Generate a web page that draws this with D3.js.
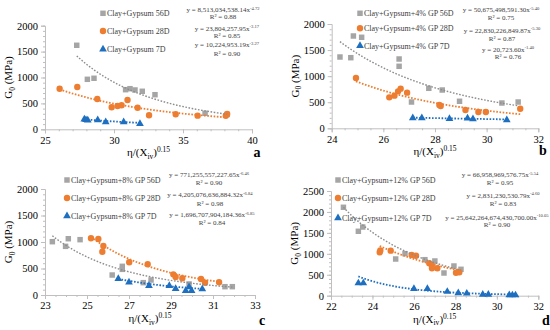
<!DOCTYPE html>
<html>
<head>
<meta charset="utf-8">
<script src="https://cdn.jsdelivr.net/npm/d3@7"></script>
<style>
  body { margin: 0; background: #fff; }
  svg { display: block; }
  svg text { font-family: "Liberation Serif", "Times New Roman", serif; }
</style>
</head>
<body>
<svg id="drawing_region"></svg>
<script>
// ---- data: [eta/(Xiv)^0.15, G0 (MPa)] ----
const a56 = [[27.30,1622],[28.07,965],[28.55,985],[30.84,765],[31.16,784],[31.52,759],[32.05,734],[32.97,668],[36.6,309],[38.2,285]];
const a28 = [[26.06,784],[27.34,817],[28.79,585],[29.83,425],[30.26,450],[30.55,463],[30.98,566],[31.71,417],[32.54,270],[34.47,290],[36.06,263],[38.1,260],[38.2,296]];
const a7  = [[27.85,193],[27.97,182],[28.1,176],[28.82,180],[29.4,140],[30.7,142],[31.88,108]];

const b56 = [[24.32,1367],[24.74,1354],[24.84,1770],[25.16,1745],[26.61,1329],[26.61,1189],[27.09,504],[27.76,767],[28.28,734],[28.95,518],[30.59,485],[31.22,504]];
const b28 = [[24.94,965],[26.23,594],[26.43,626],[26.57,709],[26.67,760],[26.92,683],[28.17,447],[28.22,428],[29.18,351],[29.68,313],[29.97,313],[31.30,376]];
const b7  = [[27.14,198],[27.49,198],[28.56,185],[29.26,192],[29.47,178],[30.78,159]];

const c56 = [[23.35,1006],[23.98,918],[24.11,1062],[24.67,1044],[26.2,377],[26.68,541],[26.68,484],[27.68,233],[28.05,283],[29.86,208],[31.57,157],[31.92,157]];
const c28 = [[25.19,1070],[25.54,1056],[25.78,925],[25.73,817],[27.01,617],[27.89,579],[29.11,390],[29.22,340],[29.54,315],[30.43,302],[30.62,232],[31.29,240]];
const c7  = [[26.49,308],[27.0,240],[27.95,175],[28.92,175],[29.22,119],[29.7,81],[29.86,151],[29.98,81],[30.49,113]];

const d56 = [[22.6,2111],[23.32,1538],[23.53,1640],[25.12,876],[25.57,1003],[26.53,860],[27.01,829],[27.45,542],[27.93,709],[28.27,630]];
const d28 = [[24.35,1036],[24.38,1080],[24.88,1075],[25.89,972],[26.1,955],[26.74,774],[26.86,733],[26.87,654],[27.13,654],[28.03,549],[28.19,559]];
const d7  = [[23.32,300],[23.56,300],[26.0,165],[26.65,165],[27.61,97],[28.14,65],[28.55,56],[29.32,28],[29.59,28],[30.6,16],[30.75,14],[30.9,14]];

// legend names
const aNames = ['Clay+Gypsum 56D','Clay+Gypsum 28D','Clay+Gypsum 7D'];
const bNames = ['Clay+Gypsum+4% GP 56D','Clay+Gypsum+4% GP 28D','Clay+Gypsum+4% GP 7D'];
const cNames = ['Clay+Gypsum+8% GP 56D','Clay+Gypsum+8% GP 28D','Clay+Gypsum+8% GP 7D'];
const dNames = ['Clay+Gypsum+12% GP 56D','Clay+Gypsum+12% GP 28D','Clay+Gypsum+12% GP 7D'];

// power trendlines y = k x^e, as printed
const aCoef = ['8,513,034,538.14','23,804,257.95','10,224,953.19'];
const aExp  = ['-4.72','-3.17','-3.27'];
const aR2   = ['0.88','0.85','0.90'];
const bCoef = ['50,675,498,591.30','22,830,226,849.87','20,723.60'];
const bExp  = ['-5.40','-5.30','-1.40'];
const bR2   = ['0.75','0.87','0.76'];
const cCoef = ['771,255,557,227.65','4,205,076,636,884.32','1,696,707,904,184.36'];
const cExp  = ['-6.46','-6.84','-6.85'];
const cR2   = ['0.90','0.98','0.84'];
const dCoef = ['66,958,969,576.75','2,831,230,530.79','25,642,264,674,430,700.00'];
const dExp  = ['-5.54','-4.60','-10.05'];
const dR2   = ['0.95','0.83','0.90'];

// axis ticks
const aXTicks = [25,30,35,40];
const bXTicks = [24,26,28,30,32];
const cXTicks = [23,25,27,29,31,33];
const dXTicks = [22,24,26,28,30,32];
const yTicks2000 = [0,500,1000,1500,2000];
const yTicks2500 = [0,500,1000,1500,2000,2500];

const panelLetters = ['a','b','c','d'];

// ---- drawing ----
const colors = ['#a5a5a5','#ed7d31','#1f6fc0'];
const trendColors = ['#8c8c8c','#ed7d31','#1f6fc0'];
const shapes = [d3.symbolSquare, d3.symbolCircle, d3.symbolTriangle];
const shapeSize = [30, 32, 26];

const svg = d3.select('#drawing_region')
    .attr('width', 550)
    .attr('height', 330);

function drawPanel(cfg) {
    const g = svg.append('g');
    const x = d3.scaleLinear().domain([cfg.xTicks[0], cfg.xTicks[cfg.xTicks.length-1]]).range([cfg.left, cfg.right]);
    const y = d3.scaleLinear().domain([0, cfg.yTicks[cfg.yTicks.length-1]]).range([cfg.bottom, cfg.top]);

    // minor ticks
    const xStep = cfg.xTicks[1] - cfg.xTicks[0];
    const xMinor = d3.range(x.domain()[0], x.domain()[1] + 1e-9, xStep / (xStep === 5 ? 5 : 4));
    const yMinor = d3.range(0, y.domain()[1] + 1e-9, 100);
    g.append('g').attr('transform', `translate(0,${cfg.bottom})`)
        .call(d3.axisBottom(x).tickValues(xMinor).tickSize(2).tickFormat(''))
        .call(a => a.select('.domain').remove());
    g.append('g').attr('transform', `translate(${cfg.left},0)`)
        .call(d3.axisLeft(y).tickValues(yMinor).tickSize(2).tickFormat(''))
        .call(a => a.select('.domain').remove());

    const xAxis = g.append('g').attr('transform', `translate(0,${cfg.bottom})`)
        .call(d3.axisBottom(x).tickValues(cfg.xTicks).tickSize(4).tickPadding(3).tickFormat(d3.format('d')));
    const yAxis = g.append('g').attr('transform', `translate(${cfg.left},0)`)
        .call(d3.axisLeft(y).tickValues(cfg.yTicks).tickSize(4).tickPadding(3).tickFormat(d3.format('d')));
    [xAxis, yAxis].forEach(ax => {
        ax.attr('font-family', null);
        ax.select('.domain').attr('stroke', '#bfbfbf');
        ax.selectAll('text').attr('font-size', '10.5px').attr('fill', '#000');
    });
    g.selectAll('.tick line').attr('stroke', '#bfbfbf');

    // markers
    cfg.series.forEach((s, i) => {
        g.append('g').selectAll('path')
            .data(s)
            .join('path')
            .attr('transform', d => `translate(${x(d[0])},${y(d[1])})`)
            .attr('d', d3.symbol().type(shapes[i]).size(shapeSize[i]))
            .attr('fill', colors[i]);
    });

    // trendlines from the printed power laws, over each series' x range
    cfg.series.forEach((s, i) => {
        const k = parseFloat(cfg.coef[i].replace(/,/g, ''));
        const e = parseFloat(cfg.exp[i]);
        const [x0, x1] = d3.extent(s, d => d[0]);
        const xs = d3.range(0, 61).map(t => x0 + (x1 - x0) * t / 60);
        g.append('path')
            .datum(xs)
            .attr('d', d3.line().x(v => x(v)).y(v => y(k * Math.pow(v, e))))
            .attr('fill', 'none')
            .attr('stroke', trendColors[i])
            .attr('stroke-width', i === 0 ? 1.4 : 1.8)
            .attr('stroke-dasharray', '1.6,1.6');
    });

    // legend
    cfg.names.forEach((n, i) => {
        const ly = cfg.legendY[i];
        g.append('path')
            .attr('transform', `translate(${cfg.legendX},${ly})`)
            .attr('d', d3.symbol().type(shapes[i]).size(shapeSize[i]))
            .attr('fill', colors[i]);
        g.append('text')
            .attr('x', cfg.legendX + 4)
            .attr('y', ly + 3)
            .attr('font-size', '8px')
            .attr('fill', '#404040')
            .text(n);
    });

    // equations
    cfg.coef.forEach((c, i) => {
        const t = g.append('text')
            .attr('x', cfg.eqX[i])
            .attr('y', cfg.eqY[2*i] + 2.2)
            .attr('text-anchor', 'middle')
            .attr('font-size', '7px')
            .attr('fill', '#404040');
        t.append('tspan').text(`y = ${c}x`);
        t.append('tspan').attr('dy', -2.6).attr('font-size', '4.6px').text(cfg.exp[i]);
        g.append('text')
            .attr('x', cfg.eqX[i])
            .attr('y', cfg.eqY[2*i+1] + 2.6)
            .attr('text-anchor', 'middle')
            .attr('font-size', '7px')
            .attr('fill', '#404040')
            .text(`R² = ${cfg.r2[i]}`);
    });

    // axis titles
    const yt = g.append('text')
        .attr('transform', `translate(${cfg.left - 33},${(cfg.top + cfg.bottom) / 2}) rotate(-90)`)
        .attr('text-anchor', 'middle')
        .attr('font-size', '11px')
        .attr('fill', '#000');
    yt.append('tspan').text('G');
    yt.append('tspan').attr('dy', 2.5).attr('font-size', '7.5px').text('0');
    yt.append('tspan').attr('dy', -2.5).text(' (MPa)');

    const xt = g.append('text')
        .attr('x', (cfg.left + cfg.right) / 2)
        .attr('y', cfg.bottom + 27)
        .attr('text-anchor', 'middle')
        .attr('font-size', '11px')
        .attr('fill', '#000');
    xt.append('tspan').text('η/(X');
    xt.append('tspan').attr('dy', 2.5).attr('font-size', '7.5px').text('iv');
    xt.append('tspan').attr('dy', -2.5).text(')');
    xt.append('tspan').attr('dy', -4).attr('font-size', '7.5px').text('0.15');

    g.append('text')
        .attr('x', cfg.letterX)
        .attr('y', cfg.letterY)
        .attr('text-anchor', 'middle')
        .attr('font-size', '14px')
        .attr('font-weight', 'bold')
        .attr('fill', '#000')
        .text(cfg.letter);
}

drawPanel({
    left: 45, right: 252, top: 25.7, bottom: 129.3,
    xTicks: aXTicks, yTicks: yTicks2000,
    series: [a56, a28, a7], names: aNames, coef: aCoef, exp: aExp, r2: aR2,
    legendX: 103, legendY: [13.3, 31, 49.3],
    eqX: [223, 227, 227], eqY: [10, 16.7, 28.3, 35, 45, 53],
    letter: panelLetters[0], letterX: 257, letterY: 157
});
drawPanel({
    left: 331.7, right: 538.3, top: 24, bottom: 128.3,
    xTicks: bXTicks, yTicks: yTicks2000,
    series: [b56, b28, b7], names: bNames, coef: bCoef, exp: bExp, r2: bR2,
    legendX: 360, legendY: [13.3, 28.3, 45.7],
    eqX: [501, 502, 508], eqY: [10, 17.3, 30.7, 38.7, 49.3, 56.7],
    letter: panelLetters[1], letterX: 543, letterY: 155
});
drawPanel({
    left: 45, right: 255, top: 189, bottom: 295,
    xTicks: cXTicks, yTicks: yTicks2000,
    series: [c56, c28, c7], names: cNames, coef: cCoef, exp: cExp, r2: cR2,
    legendX: 67, legendY: [180, 198, 216],
    eqX: [209, 210, 212], eqY: [175, 182.3, 195, 203.3, 215, 222.3],
    letter: panelLetters[2], letterX: 262, letterY: 325
});
drawPanel({
    left: 331, right: 538.3, top: 191, bottom: 295.7,
    xTicks: dXTicks, yTicks: yTicks2500,
    series: [d56, d28, d7], names: dNames, coef: dCoef, exp: dExp, r2: dR2,
    legendX: 338, legendY: [180, 198, 218],
    eqX: [500, 503, 497], eqY: [175, 182.3, 195.7, 203.3, 217.3, 224.3],
    letter: panelLetters[3], letterX: 546, letterY: 325
});
</script>
</body>
</html>
